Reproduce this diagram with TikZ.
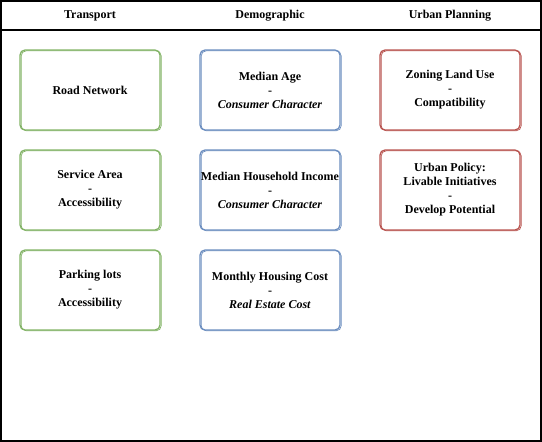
\documentclass[tikz,border=0pt]{standalone}
\usepackage{fontspec}
\setmainfont{Liberation Serif}
\usetikzlibrary{positioning}
\definecolor{mygreen}{RGB}{130,179,102}
\definecolor{myblue}{RGB}{108,142,191}
\definecolor{myred}{RGB}{184,84,80}
\tikzset{
  card/.style={rectangle, draw, rounded corners=5pt, line width=1.3pt,
    minimum width=140pt, minimum height=80pt, outer sep=0pt,
    inner xsep=0pt, align=center,
    font=\fontsize{12}{14}\selectfont\bfseries,
    postaction={draw, line width=0.7pt,
      transform canvas={shift={(1.2pt,-0.8pt)}}}},
  greencard/.style={card, draw=mygreen},
  bluecard/.style={card, draw=myblue},
  redcard/.style={card, draw=myred},
  title/.style={font=\fontsize{12}{14}\selectfont\bfseries}
}

\begin{document}
\begin{tikzpicture}[x=1pt, y=-1pt, node distance=20pt and 40pt]
  \useasboundingbox (0,0) rectangle (542,442);
  % Frame and header
  \draw[line width=1.6pt] (1,1) rectangle (541,441);
  \draw[line width=1.3pt] (1,30) -- (541,30);
  \node[title] (transport) at (90,16) {Transport};
  \node[title] (demo) at (270,16) {Demographic};
  \node[title] (urban) at (450,16) {Urban Planning};

  % Transport
  \node[greencard] (road) at (90,90) {Road Network};
  \node[greencard, below=of road] (service) {Service Area\\-\\Accessibility};
  \node[greencard, below=of service] (parking) {Parking lots\\-\\Accessibility};
  % Demographic
  \node[bluecard, right=of road] (age) {Median Age\\-\\\textit{Consumer Character}};
  \node[bluecard, below=of age] (income) {Median Household Income\\-\\\textit{Consumer Character}};
  \node[bluecard, below=of income] (housing) {Monthly Housing Cost\\-\\\textit{Real Estate Cost}};
  % Urban Planning
  \node[redcard, right=of age] (zoning) {Zoning Land Use\\-\\Compatibility};
  \node[redcard, below=of zoning] (policy) {Urban Policy:\\Livable Initiatives\\-\\Develop Potential};
\end{tikzpicture}
\end{document}
